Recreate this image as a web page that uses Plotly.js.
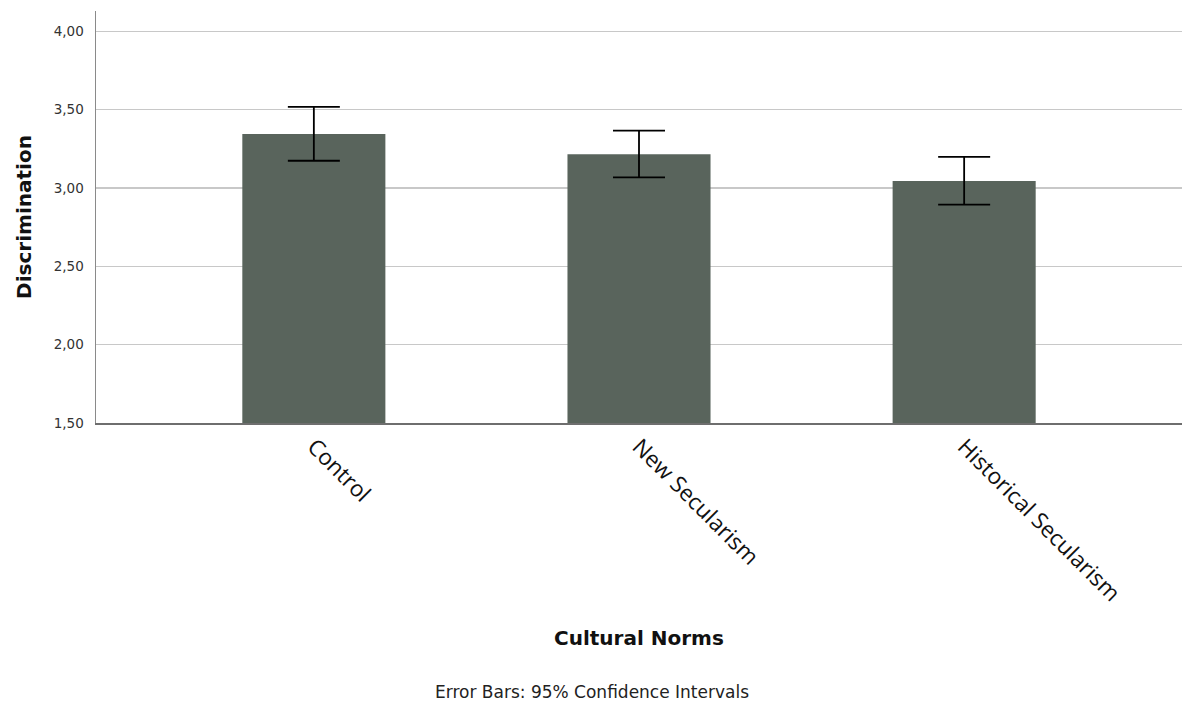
<!DOCTYPE html>
<html>
<head>
<meta charset="utf-8">
<script src="https://cdn.plot.ly/plotly-3.0.1.min.js"></script>
<style>html,body{margin:0;padding:0;background:#fff;}#chart{width:1185px;height:708px;}</style>
</head>
<body>
<div id="chart"></div>
<script>
const categories = ["Control", "New Secularism", "Historical Secularism"];
const means = [3.345, 3.215, 3.045];
const ciUpper = [3.518, 3.367, 3.199];
const ciLower = [3.174, 3.068, 2.894];
const yTicks = [1.5, 2.0, 2.5, 3.0, 3.5, 4.0];

const plus = means.map((m, i) => ciUpper[i] - m);
const minus = means.map((m, i) => m - ciLower[i]);

const trace = {
  type: 'bar',
  x: categories,
  y: means,
  width: 0.44,
  marker: {color: '#59645c', line: {width: 0}},
  error_y: {type: 'data', symmetric: false, array: plus, arrayminus: minus,
            color: '#000000', thickness: 1.8, width: 26},
  hoverinfo: 'none'
};

const layout = {
  width: 1185, height: 708,
  margin: {l: 96, r: 3, t: 11, b: 285},
  paper_bgcolor: '#ffffff', plot_bgcolor: '#ffffff',
  separators: ',.',
  showlegend: false,
  font: {family: 'DejaVu Sans, sans-serif', color: '#222'},
  xaxis: {
    type: 'category',
    range: [-0.67, 2.67],
    showgrid: false,
    showline: true, linecolor: '#6e6e6e', linewidth: 1.5,
    ticks: '',
    tickangle: 45,
    tickfont: {family: 'Open Sans, sans-serif', size: 22.5, color: '#111'},
    title: {text: '', font: {size: 1}},
    automargin: false
  },
  yaxis: {
    range: [1.5, 4.13],
    tickvals: yTicks,
    tickformat: '.2f',
    showgrid: true, gridcolor: '#c8c8c8', gridwidth: 1.2,
    zeroline: false,
    showline: true, linecolor: '#8a8a8a', linewidth: 1.5,
    ticks: '',
    ticklabelstandoff: 8,
    tickfont: {family: 'DejaVu Sans, sans-serif', size: 13.5, color: '#333'},
    title: {text: '<b>Discrimination</b>', font: {family: 'DejaVu Sans, sans-serif', size: 20, color: '#111'}, standoff: 16},
    automargin: false
  },
  annotations: [{
    text: '<b>Cultural Norms</b>',
    xref: 'paper', yref: 'paper',
    x: 0.5, y: -(638 - 423) / 412, xanchor: 'center', yanchor: 'middle',
    showarrow: false,
    font: {family: 'DejaVu Sans, sans-serif', size: 20, color: '#111'}
  }, {
    text: 'Error Bars: 95% Confidence Intervals',
    xref: 'paper', yref: 'paper',
    x: 0.457, y: -(692 - 423) / 412, xanchor: 'center', yanchor: 'middle',
    showarrow: false,
    font: {family: 'DejaVu Sans, sans-serif', size: 17, color: '#222'}
  }]
};

Plotly.newPlot('chart', [trace], layout, {staticPlot: true, displayModeBar: false});
</script>
</body>
</html>
